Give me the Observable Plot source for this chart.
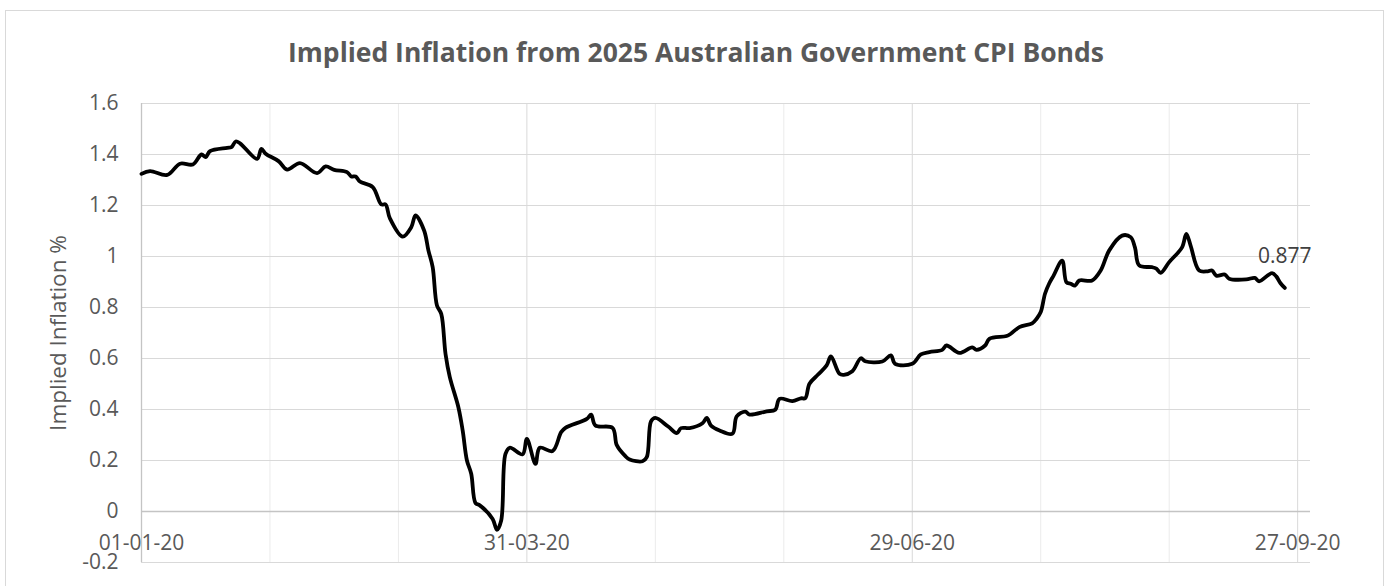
<!DOCTYPE html>
<html>
<head>
<meta charset="utf-8">
<script src="https://cdn.jsdelivr.net/npm/d3@7"></script>
<script src="https://cdn.jsdelivr.net/npm/@observablehq/plot@0.6"></script>
<style>
  html, body { margin: 0; padding: 0; background: #fff; }
  #wrap { position: relative; width: 1386px; height: 586px; overflow: hidden; }
  #border { position: absolute; left: 5px; top: 10px; width: 1377px; height: 600px;
            border: 1px solid #d9d9d9; pointer-events: none; }
</style>
</head>
<body>
<div id="wrap"><div id="chart"></div><div id="border"></div></div>
<script>
const titleText = "Implied Inflation from 2025 Australian Government CPI Bonds";
const yLabel = "Implied Inflation %";

const dates = [
  "2020-01-01","2020-01-03","2020-01-07","2020-01-10","2020-01-13","2020-01-15","2020-01-16","2020-01-17",
  "2020-01-21","2020-01-22","2020-01-23","2020-01-24","2020-01-28","2020-01-29","2020-01-30",
  "2020-02-02","2020-02-04","2020-02-07","2020-02-11","2020-02-13","2020-02-15","2020-02-18","2020-02-19",
  "2020-02-20","2020-02-21","2020-02-24","2020-02-26","2020-02-27","2020-02-28",
  "2020-03-02","2020-03-04","2020-03-05","2020-03-07","2020-03-08","2020-03-09","2020-03-10","2020-03-11",
  "2020-03-12","2020-03-13","2020-03-15","2020-03-16","2020-03-17","2020-03-18","2020-03-19","2020-03-20",
  "2020-03-23","2020-03-24","2020-03-25","2020-03-26","2020-03-27","2020-03-30","2020-03-31",
  "2020-04-02","2020-04-03","2020-04-06","2020-04-08","2020-04-09","2020-04-14","2020-04-15","2020-04-16",
  "2020-04-20","2020-04-21","2020-04-23","2020-04-24","2020-04-27","2020-04-28","2020-04-29","2020-04-30",
  "2020-05-03","2020-05-05","2020-05-06","2020-05-08","2020-05-11","2020-05-12","2020-05-13","2020-05-15",
  "2020-05-18","2020-05-19","2020-05-21","2020-05-22","2020-05-26","2020-05-28","2020-05-29",
  "2020-06-01","2020-06-03","2020-06-04","2020-06-05","2020-06-07","2020-06-09","2020-06-10","2020-06-12",
  "2020-06-13","2020-06-15","2020-06-17","2020-06-18","2020-06-22","2020-06-24","2020-06-25","2020-06-29",
  "2020-07-01","2020-07-03","2020-07-06","2020-07-07","2020-07-10","2020-07-13","2020-07-14","2020-07-16",
  "2020-07-17","2020-07-21","2020-07-22","2020-07-24","2020-07-27","2020-07-28","2020-07-29","2020-07-30",
  "2020-07-31","2020-08-01","2020-08-03","2020-08-04","2020-08-05","2020-08-06","2020-08-07","2020-08-10",
  "2020-08-12","2020-08-14","2020-08-17","2020-08-19","2020-08-20","2020-08-21","2020-08-24","2020-08-25",
  "2020-08-26","2020-08-28","2020-08-31","2020-09-01","2020-09-02","2020-09-04","2020-09-06","2020-09-07",
  "2020-09-08","2020-09-10","2020-09-11","2020-09-15","2020-09-17","2020-09-18","2020-09-21","2020-09-22",
  "2020-09-23","2020-09-24"
];
const values = [
  1.324,1.335,1.320,1.364,1.361,1.400,1.390,1.413,
  1.426,1.429,1.451,1.444,1.383,1.422,1.403,
  1.374,1.341,1.366,1.327,1.353,1.340,1.331,1.314,
  1.314,1.294,1.272,1.204,1.204,1.150,
  1.078,1.115,1.161,1.102,1.024,0.958,0.808,0.775,
  0.618,0.527,0.409,0.318,0.200,0.148,0.033,0.024,
  -0.029,-0.072,-0.035,0.226,0.250,0.224,0.285,
  0.187,0.250,0.237,0.311,0.328,0.363,0.380,0.337,
  0.328,0.260,0.217,0.204,0.197,0.213,0.354,0.367,
  0.333,0.307,0.327,0.327,0.346,0.367,0.337,0.318,
  0.305,0.373,0.392,0.380,0.393,0.399,0.442,
  0.433,0.444,0.444,0.501,0.537,0.573,0.608,0.540,
  0.536,0.550,0.601,0.589,0.588,0.612,0.579,0.579,
  0.616,0.625,0.634,0.651,0.622,0.644,0.634,0.651,
  0.677,0.688,0.697,0.723,0.738,0.755,0.782,0.854,
  0.895,0.925,0.984,0.899,0.893,0.886,0.906,0.906,
  0.945,1.024,1.082,1.076,1.036,0.965,0.958,0.952,
  0.936,0.978,1.036,1.089,1.043,0.945,0.942,0.945,
  0.925,0.929,0.913,0.910,0.916,0.903,0.935,0.922,
  0.895,0.877
];

const yTicks = [-0.2, 0, 0.2, 0.4, 0.6, 0.8, 1, 1.2, 1.4, 1.6];
const yTickLabels = ["-0.2", "0", "0.2", "0.4", "0.6", "0.8", "1", "1.2", "1.4", "1.6"];
const xGridDates = ["2020-01-31","2020-03-01","2020-04-30","2020-05-30","2020-07-29","2020-08-28"];
const xMajorDates = ["2020-01-01","2020-03-31","2020-06-29","2020-09-27"];
const xTickLabels = ["01-01-20","31-03-20","29-06-20","27-09-20"];
const xDomain = ["2020-01-01","2020-09-30"];

const parse = d3.utcParse("%Y-%m-%d");
const data = dates.map((d, i) => ({date: parse(d), value: values[i]}));
const last = data[data.length - 1];
const xLabelData = xMajorDates.map((d, i) => ({date: parse(d), base: 0, label: xTickLabels[i]}));

const W = 1386, H = 586;
const mL = 141, mR = 76, mT = 103, mB = 24;
const textColor = "#595959";

const chart = Plot.plot({
  width: W,
  height: H,
  marginLeft: mL,
  marginRight: mR,
  marginTop: mT,
  marginBottom: mB,
  style: {fontFamily: "'Open Sans', sans-serif", fontSize: "21px", background: "transparent", color: textColor, overflow: "visible"},
  x: {type: "utc", domain: xDomain.map(parse), axis: null},
  y: {domain: [-0.2, 1.6], axis: null},
  marks: [
    Plot.ruleX(xGridDates.map(parse), {stroke: "#ebebeb", strokeWidth: 1}),
    Plot.ruleX(xMajorDates.slice(1).map(parse), {stroke: "#d9d9d9", strokeWidth: 1}),
    Plot.ruleY(yTicks.filter(v => v !== 0), {stroke: "#d9d9d9", strokeWidth: 1}),
    Plot.ruleY([0], {stroke: "#c4c4c4", strokeWidth: 1.3}),
    Plot.ruleX([parse(xMajorDates[0])], {stroke: "#c4c4c4", strokeWidth: 1.3}),
    Plot.axisY({ticks: yTicks, tickFormat: (d) => yTickLabels[yTicks.indexOf(d)], tickSize: 0, tickPadding: 23,
                fill: textColor, fontSize: 21, label: null}),
    Plot.text(xLabelData, {x: "date", y: "base", text: "label", dy: 32, fill: textColor, fontSize: 21}),
    Plot.line(data, {x: "date", y: "value", stroke: "#000", strokeWidth: 3.8, curve: "catmull-rom",
                     strokeLinejoin: "round", strokeLinecap: "round"}),
    Plot.text([last], {x: "date", y: "value", text: d => d.value.toFixed(3), dy: -32, fill: "#404040", fontSize: 21}),
    Plot.text([titleText], {frameAnchor: "top", dx: -30, dy: -60, fontSize: 26.5, fontWeight: "bold", fill: textColor}),
    Plot.text([yLabel], {frameAnchor: "left", textAnchor: "middle", rotate: -90, dx: -83, fill: textColor, fontSize: 22.5})
  ]
});
document.getElementById("chart").appendChild(chart);
</script>
</body>
</html>
